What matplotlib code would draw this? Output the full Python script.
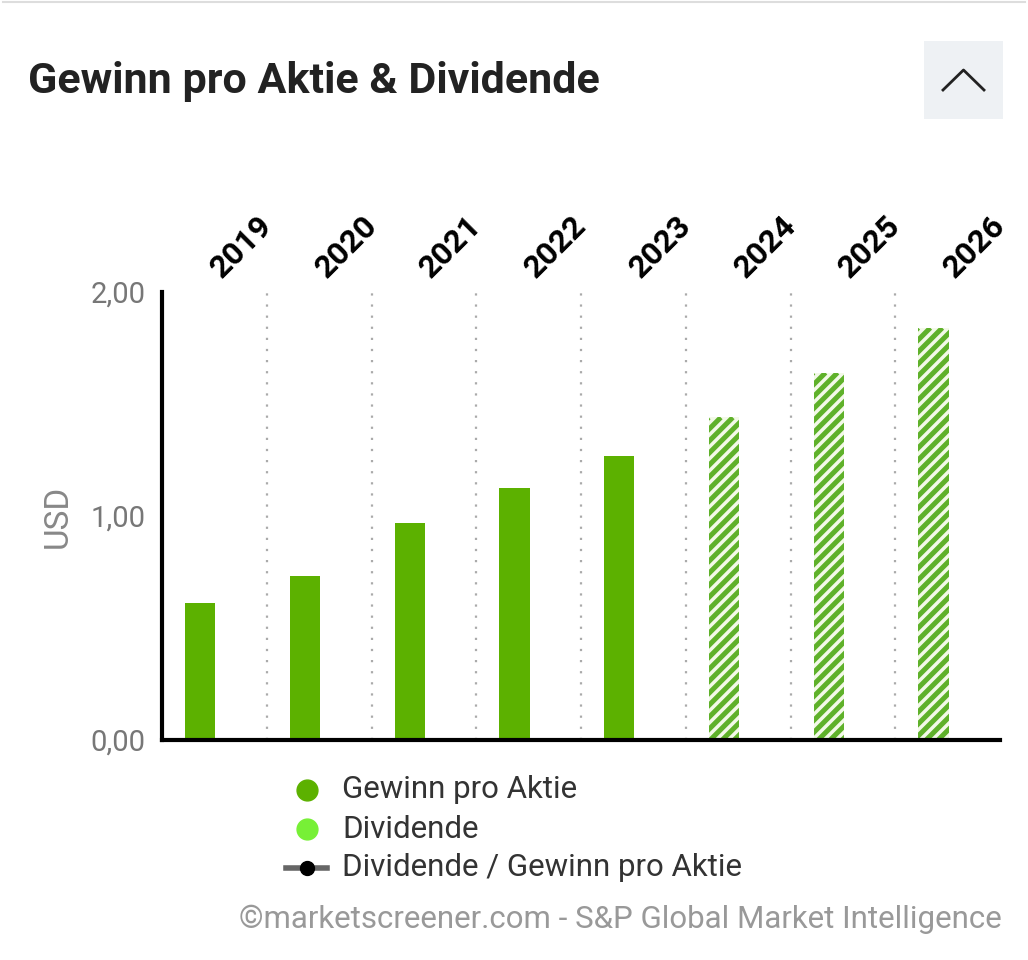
import matplotlib
matplotlib.use("Agg")
import numpy as np
import matplotlib.pyplot as plt
from matplotlib.patches import Rectangle
from matplotlib.lines import Line2D
from matplotlib.collections import LineCollection

plt.rcParams['font.family'] = ['Roboto', 'DejaVu Sans']

years = ["2019", "2020", "2021", "2022", "2023", "2024", "2025", "2026"]
eps = [0.61, 0.73, 0.97, 1.125, 1.27, 1.44, 1.64, 1.84]
estimate = [False, False, False, False, False, True, True, True]
yticks = [0.0, 1.0, 2.0]
ytick_labels = ["0,00", "1,00", "2,00"]

W, H = 1028, 960
fig = plt.figure(figsize=(W / 100, H / 100), dpi=100)
fig.patch.set_facecolor("white")

# Outer card border (top edge)
fig.add_artist(Line2D([0.003, 0.997], [1 - 2 / H, 1 - 2 / H], transform=fig.transFigure,
                      color="#dddddd", lw=1.5))

# Title
fig.text(28 / W, 1 - 81 / H, "Gewinn pro Aktie & Dividende", fontsize=31, fontweight="bold",
         color="#222222", ha="left", va="center")

# Collapse button
fig.add_artist(Rectangle((924 / W, 1 - 119 / H), 79 / W, 78 / H, transform=fig.transFigure,
                         facecolor="#eef1f4", edgecolor="none"))
fig.add_artist(Line2D([943 / W, 963.5 / W, 984 / W], [1 - 90 / H, 1 - 70 / H, 1 - 90 / H],
                      transform=fig.transFigure, color="#222222", lw=2))

ax = fig.add_axes([162 / W, 1 - 740 / H, (1000 - 162) / W, (740 - 292) / H])
ax.set_xlim(0, len(years))
ax.set_ylim(0, 2.0)

hatched = []
for i, (v, est) in enumerate(zip(eps, estimate)):
    if est:
        b = ax.bar(i + 0.365, v, width=0.29, color="#f3f9e8", linewidth=0, zorder=3)
        hatched.append(b[0])
    else:
        ax.bar(i + 0.365, v, width=0.29, color="#5cb100", linewidth=0, zorder=3)

for i in range(1, len(years)):
    ax.axvline(i, color="#aaaaaa", lw=1.6, linestyle=(0, (1, 4)), zorder=1)

# Diagonal stripes for estimate bars (drawn in pixel space, clipped to each bar)
fig.canvas.draw()
for p in hatched:
    bb = p.get_window_extent()
    period = 12.0
    offsets = np.arange(bb.x0 - bb.height - period, bb.x1 + period, period)
    segs = [[(o, bb.y0), (o + bb.height, bb.y1)] for o in offsets]
    lc = LineCollection(segs, colors="#5fb12a", linewidths=3.6, transform=None, zorder=4)
    ax.add_collection(lc, autolim=False)
    lc.set_clip_path(p.get_path(), p.get_transform())

for i, y in enumerate(years):
    ax.text(i + 0.57, 1.03, y, transform=ax.get_xaxis_transform(), rotation=45,
            rotation_mode="anchor", ha="left", va="baseline", fontsize=23,
            fontweight="bold", color="black", clip_on=False)

for s in ["top", "right"]:
    ax.spines[s].set_visible(False)
for s in ["left", "bottom"]:
    ax.spines[s].set_linewidth(3)
    ax.spines[s].set_color("black")
    ax.spines[s].set_capstyle("projecting")
    ax.spines[s].set_zorder(5)

ax.set_xticks([])
ax.set_yticks(yticks)
ax.set_yticklabels(ytick_labels, fontsize=21, color="#777777")
ax.tick_params(axis="y", length=0, pad=12)
ax.set_ylabel("USD", fontsize=24, color="#888888", labelpad=12)

# Legend
leg_items = [("Gewinn pro Aktie", "#5cb100", "dot"),
             ("Dividende", "#77f036", "dot"),
             ("Dividende / Gewinn pro Aktie", "black", "line")]
for k, (label, col, kind) in enumerate(leg_items):
    yy = 1 - (790 + 39 * k) / H
    if kind == "dot":
        fig.add_artist(Line2D([307 / W], [yy], transform=fig.transFigure, marker="o",
                              markersize=15, color=col, linestyle="none"))
    else:
        fig.add_artist(Line2D([286 / W, 327 / W], [yy, yy], transform=fig.transFigure,
                              color="#666666", lw=4))
        fig.add_artist(Line2D([307 / W], [yy], transform=fig.transFigure, marker="o",
                              markersize=10, color="black", linestyle="none"))
    fig.text(342 / W, yy, label, fontsize=22.5, color="#333333", ha="left", va="center")

fig.text(1002 / W, 1 - 919 / H, "©marketscreener.com - S&P Global Market Intelligence",
         fontsize=22.5, color="#999999", ha="right", va="center")

fig.savefig("out.png", dpi=100, facecolor="white")
